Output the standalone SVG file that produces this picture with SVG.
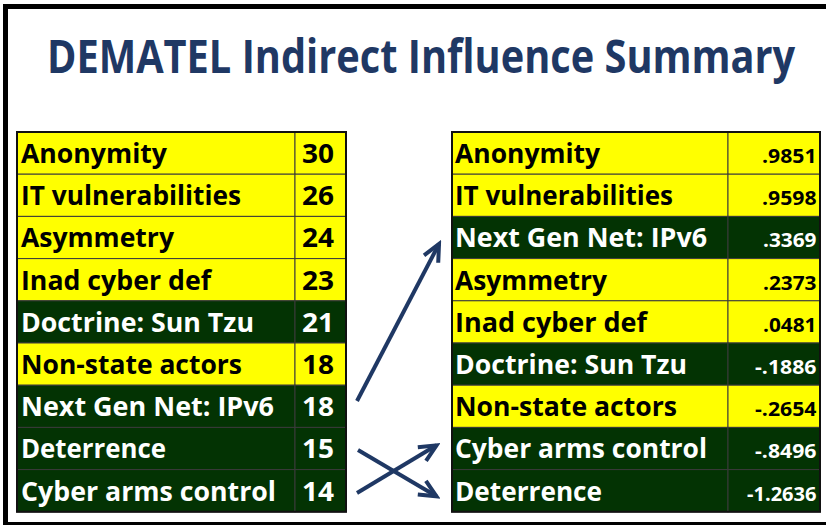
<svg xmlns="http://www.w3.org/2000/svg" width="826" height="525" viewBox="0 0 826 525">
  <style>
    .title { font-family: "Open Sans", "Liberation Sans", sans-serif; font-weight: 700; font-size: 46px; fill: #1f3864; }
    .lbl { font-family: "Open Sans", "Liberation Sans", sans-serif; font-weight: 700; font-size: 26px; }
    .num { font-family: "Open Sans", "Liberation Sans", sans-serif; font-weight: 700; font-size: 26px; }
    .val { font-family: "Open Sans", "Liberation Sans", sans-serif; font-weight: 700; font-size: 19px; }
    .y rect { fill: #ffff00; stroke: #3a3a3a; stroke-width: 1; }
    .g rect { fill: #033303; stroke: #3a3a3a; stroke-width: 1; }
    .y text { fill: #000000; }
    .g text { fill: #ffffff; }
    .frame { fill: none; stroke: #111111; stroke-width: 2; }
    .arrow { fill: none; stroke: #1f3864; stroke-width: 4; }
  </style>
  <defs>
    <marker id="chevron" markerUnits="userSpaceOnUse" viewBox="-20 -12 24 24" refX="0" refY="0" markerWidth="24" markerHeight="24" orient="auto">
      <path d="M -17,-8 L 0,0 L -17,8" fill="none" stroke="#1f3864" stroke-width="4" stroke-linejoin="miter"/>
    </marker>
  </defs>

  <rect width="826" height="525" fill="#ffffff"/>

  <!-- slide frame: top, left and bottom rules -->
  <rect x="3" y="4" width="823" height="5" fill="#000000"/>
  <rect x="3" y="4" width="5" height="521" fill="#000000"/>
  <rect x="3" y="522" width="823" height="3" fill="#000000"/>

  <!-- heading, condensed horizontally -->
  <text class="title" transform="translate(47 73) scale(0.865 1)" x="0" y="0" textLength="865" lengthAdjust="spacingAndGlyphs">DEMATEL Indirect Influence Summary</text>

  <!-- total influence ranking -->
  <g id="left-table">
    <g id="l-anonymity" class="y">
      <rect x="17" y="132" width="278" height="42.2"/><rect x="295" y="132" width="51" height="42.2"/>
      <text class="lbl" x="21" y="163" textLength="146" lengthAdjust="spacingAndGlyphs">Anonymity</text>
      <text class="num" x="302" y="163" textLength="32" lengthAdjust="spacingAndGlyphs">30</text>
    </g>
    <g id="l-it-vulnerabilities" class="y">
      <rect x="17" y="174.2" width="278" height="42.2"/><rect x="295" y="174.2" width="51" height="42.2"/>
      <text class="lbl" x="21" y="205.2" textLength="220" lengthAdjust="spacingAndGlyphs">IT vulnerabilities</text>
      <text class="num" x="302" y="205.2" textLength="32" lengthAdjust="spacingAndGlyphs">26</text>
    </g>
    <g id="l-asymmetry" class="y">
      <rect x="17" y="216.4" width="278" height="42.2"/><rect x="295" y="216.4" width="51" height="42.2"/>
      <text class="lbl" x="21" y="247.4" textLength="153" lengthAdjust="spacingAndGlyphs">Asymmetry</text>
      <text class="num" x="302" y="247.4" textLength="32" lengthAdjust="spacingAndGlyphs">24</text>
    </g>
    <g id="l-inad-cyber-def" class="y">
      <rect x="17" y="258.6" width="278" height="42.2"/><rect x="295" y="258.6" width="51" height="42.2"/>
      <text class="lbl" x="21" y="289.6" textLength="190" lengthAdjust="spacingAndGlyphs">Inad cyber def</text>
      <text class="num" x="302" y="289.6" textLength="32" lengthAdjust="spacingAndGlyphs">23</text>
    </g>
    <g id="l-doctrine" class="g">
      <rect x="17" y="300.8" width="278" height="42.2"/><rect x="295" y="300.8" width="51" height="42.2"/>
      <text class="lbl" x="21" y="331.8" textLength="233" lengthAdjust="spacingAndGlyphs">Doctrine: Sun Tzu</text>
      <text class="num" x="302" y="331.8" textLength="32" lengthAdjust="spacingAndGlyphs">21</text>
    </g>
    <g id="l-non-state" class="y">
      <rect x="17" y="343" width="278" height="42.2"/><rect x="295" y="343" width="51" height="42.2"/>
      <text class="lbl" x="21" y="374" textLength="221" lengthAdjust="spacingAndGlyphs">Non-state actors</text>
      <text class="num" x="302" y="374" textLength="32" lengthAdjust="spacingAndGlyphs">18</text>
    </g>
    <g id="l-ipv6" class="g">
      <rect x="17" y="385.2" width="278" height="42.2"/><rect x="295" y="385.2" width="51" height="42.2"/>
      <text class="lbl" x="21" y="416.2" textLength="253" lengthAdjust="spacingAndGlyphs">Next Gen Net: IPv6</text>
      <text class="num" x="302" y="416.2" textLength="32" lengthAdjust="spacingAndGlyphs">18</text>
    </g>
    <g id="l-deterrence" class="g">
      <rect x="17" y="427.4" width="278" height="42.2"/><rect x="295" y="427.4" width="51" height="42.2"/>
      <text class="lbl" x="21" y="458.4" textLength="145" lengthAdjust="spacingAndGlyphs">Deterrence</text>
      <text class="num" x="302" y="458.4" textLength="32" lengthAdjust="spacingAndGlyphs">15</text>
    </g>
    <g id="l-arms-control" class="g">
      <rect x="17" y="469.6" width="278" height="42.2"/><rect x="295" y="469.6" width="51" height="42.2"/>
      <text class="lbl" x="21" y="500.6" textLength="255" lengthAdjust="spacingAndGlyphs">Cyber arms control</text>
      <text class="num" x="302" y="500.6" textLength="32" lengthAdjust="spacingAndGlyphs">14</text>
    </g>
    <rect class="frame" x="17" y="132" width="329" height="379.8"/>
  </g>

  <!-- net indirect influence ranking -->
  <g id="right-table">
    <g id="r-anonymity" class="y">
      <rect x="452" y="132" width="276" height="42.2"/><rect x="728" y="132" width="92" height="42.2"/>
      <text class="lbl" x="455" y="163" textLength="145" lengthAdjust="spacingAndGlyphs">Anonymity</text>
      <text class="val" x="762" y="163" textLength="54.5" lengthAdjust="spacingAndGlyphs">.9851</text>
    </g>
    <g id="r-it-vulnerabilities" class="y">
      <rect x="452" y="174.2" width="276" height="42.2"/><rect x="728" y="174.2" width="92" height="42.2"/>
      <text class="lbl" x="455" y="205.2" textLength="218" lengthAdjust="spacingAndGlyphs">IT vulnerabilities</text>
      <text class="val" x="762" y="205.2" textLength="54.5" lengthAdjust="spacingAndGlyphs">.9598</text>
    </g>
    <g id="r-ipv6" class="g">
      <rect x="452" y="216.4" width="276" height="42.2"/><rect x="728" y="216.4" width="92" height="42.2"/>
      <text class="lbl" x="455" y="247.4" textLength="252" lengthAdjust="spacingAndGlyphs">Next Gen Net: IPv6</text>
      <text class="val" x="763" y="247.4" textLength="53.5" lengthAdjust="spacingAndGlyphs">.3369</text>
    </g>
    <g id="r-asymmetry" class="y">
      <rect x="452" y="258.6" width="276" height="42.2"/><rect x="728" y="258.6" width="92" height="42.2"/>
      <text class="lbl" x="455" y="289.6" textLength="152" lengthAdjust="spacingAndGlyphs">Asymmetry</text>
      <text class="val" x="763" y="289.6" textLength="53.5" lengthAdjust="spacingAndGlyphs">.2373</text>
    </g>
    <g id="r-inad-cyber-def" class="y">
      <rect x="452" y="300.8" width="276" height="42.2"/><rect x="728" y="300.8" width="92" height="42.2"/>
      <text class="lbl" x="455" y="331.8" textLength="192" lengthAdjust="spacingAndGlyphs">Inad cyber def</text>
      <text class="val" x="763" y="331.8" textLength="53.5" lengthAdjust="spacingAndGlyphs">.0481</text>
    </g>
    <g id="r-doctrine" class="g">
      <rect x="452" y="343" width="276" height="42.2"/><rect x="728" y="343" width="92" height="42.2"/>
      <text class="lbl" x="455" y="374" textLength="232" lengthAdjust="spacingAndGlyphs">Doctrine: Sun Tzu</text>
      <text class="val" x="755" y="374" textLength="61.5" lengthAdjust="spacingAndGlyphs">-.1886</text>
    </g>
    <g id="r-non-state" class="y">
      <rect x="452" y="385.2" width="276" height="42.2"/><rect x="728" y="385.2" width="92" height="42.2"/>
      <text class="lbl" x="455" y="416.2" textLength="222" lengthAdjust="spacingAndGlyphs">Non-state actors</text>
      <text class="val" x="755" y="416.2" textLength="61.5" lengthAdjust="spacingAndGlyphs">-.2654</text>
    </g>
    <g id="r-arms-control" class="g">
      <rect x="452" y="427.4" width="276" height="42.2"/><rect x="728" y="427.4" width="92" height="42.2"/>
      <text class="lbl" x="455" y="458.4" textLength="252" lengthAdjust="spacingAndGlyphs">Cyber arms control</text>
      <text class="val" x="755" y="458.4" textLength="61.5" lengthAdjust="spacingAndGlyphs">-.8496</text>
    </g>
    <g id="r-deterrence" class="g">
      <rect x="452" y="469.6" width="276" height="42.2"/><rect x="728" y="469.6" width="92" height="42.2"/>
      <text class="lbl" x="455" y="500.6" textLength="147" lengthAdjust="spacingAndGlyphs">Deterrence</text>
      <text class="val" x="747" y="500.6" textLength="69.5" lengthAdjust="spacingAndGlyphs">-1.2636</text>
    </g>
    <rect class="frame" x="452" y="132" width="368" height="379.8"/>
  </g>

  <!-- rank-change arrows -->
  <g id="connectors">
    <line class="arrow" x1="357" y1="401" x2="439" y2="244" marker-end="url(#chevron)"/>
    <line class="arrow" x1="358" y1="450" x2="436.5" y2="496.3" marker-end="url(#chevron)"/>
    <line class="arrow" x1="357" y1="493" x2="436.5" y2="445.3" marker-end="url(#chevron)"/>
  </g>
</svg>
